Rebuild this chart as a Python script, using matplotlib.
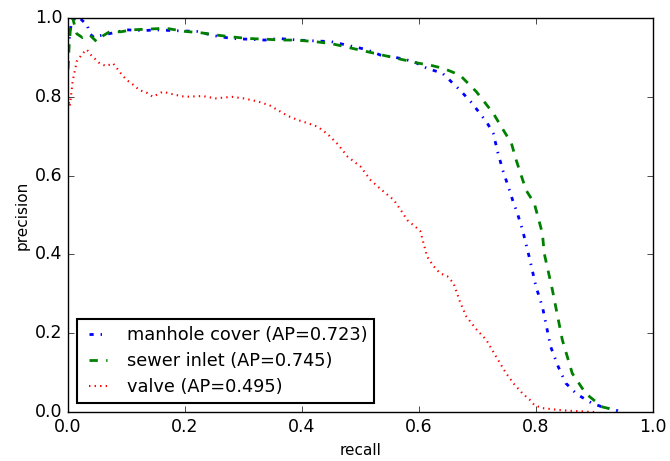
import matplotlib
matplotlib.use("Agg")
import matplotlib.pyplot as plt

plt.style.use("classic")
plt.rcParams["font.family"] = ["DejaVu Sans"]

# manhole cover (AP=0.723)
mc_recall = [0.0, 0.005, 0.012, 0.02, 0.027, 0.032, 0.037, 0.045, 0.054, 0.07, 0.1, 0.13, 0.15,
             0.18, 0.22, 0.25, 0.28, 0.31, 0.336, 0.36, 0.393, 0.42, 0.45, 0.48, 0.51, 0.534,
             0.56, 0.59, 0.614, 0.64, 0.67, 0.69, 0.704, 0.716, 0.727, 0.735, 0.744, 0.752,
             0.760, 0.768, 0.777, 0.789, 0.8, 0.811, 0.825, 0.838, 0.851, 0.87, 0.896, 0.915, 0.936, 0.94]
mc_precision = [0.92, 0.98, 1.0, 1.0, 0.99, 0.987, 0.96, 0.95, 0.955, 0.96, 0.97, 0.968, 0.97,
                0.968, 0.966, 0.955, 0.948, 0.946, 0.944, 0.948, 0.944, 0.942, 0.94, 0.93, 0.92,
                0.906, 0.90, 0.89, 0.872, 0.86, 0.817, 0.785, 0.758, 0.735, 0.707, 0.657, 0.61,
                0.575, 0.538, 0.505, 0.462, 0.39, 0.318, 0.267, 0.166, 0.115, 0.073, 0.045,
                0.022, 0.012, 0.005, 0.003]

# sewer inlet (AP=0.745)
si_recall = [0.0, 0.002, 0.004, 0.008, 0.015, 0.025, 0.037, 0.049, 0.06, 0.071, 0.09, 0.11, 0.14,
             0.167, 0.2, 0.23, 0.252, 0.28, 0.308, 0.34, 0.365, 0.39, 0.422, 0.45, 0.48, 0.51,
             0.54, 0.57, 0.6, 0.62, 0.642, 0.67, 0.698, 0.727, 0.744, 0.758, 0.766, 0.783,
             0.797, 0.811, 0.814, 0.828, 0.845, 0.862, 0.885, 0.913, 0.936, 0.94]
si_precision = [0.87, 0.93, 0.97, 1.0, 0.96, 0.95, 0.957, 0.94, 0.955, 0.965, 0.965, 0.97, 0.972,
                0.974, 0.966, 0.962, 0.957, 0.952, 0.948, 0.946, 0.944, 0.944, 0.94, 0.935, 0.925,
                0.915, 0.905, 0.895, 0.885, 0.88, 0.872, 0.855, 0.813, 0.758, 0.716, 0.682, 0.64,
                0.563, 0.53, 0.453, 0.403, 0.31, 0.183, 0.098, 0.047, 0.013, 0.005, 0.003]

# valve (AP=0.495)
va_recall = [0.0, 0.003, 0.008, 0.015, 0.025, 0.032, 0.04, 0.054, 0.065, 0.077, 0.09, 0.1, 0.112,
             0.122, 0.135, 0.145, 0.162, 0.18, 0.2, 0.23, 0.252, 0.28, 0.3, 0.325, 0.345,
             0.359, 0.375, 0.393, 0.41, 0.427, 0.444, 0.461, 0.478, 0.5, 0.517, 0.535, 0.557,
             0.57, 0.58, 0.602, 0.614, 0.625, 0.636, 0.648, 0.659, 0.67, 0.681, 0.698, 0.715,
             0.732, 0.749, 0.763, 0.777, 0.79, 0.797, 0.81, 0.84, 0.86, 0.885, 0.9]
va_precision = [0.80, 0.775, 0.84, 0.89, 0.91, 0.92, 0.905, 0.885, 0.878, 0.885, 0.86, 0.843, 0.83,
                0.817, 0.81, 0.80, 0.813, 0.806, 0.80, 0.802, 0.796, 0.80, 0.796, 0.788, 0.778,
                0.766, 0.752, 0.741, 0.733, 0.724, 0.705, 0.68, 0.648, 0.623, 0.589, 0.565, 0.538,
                0.51, 0.487, 0.46, 0.394, 0.37, 0.352, 0.345, 0.327, 0.28, 0.242, 0.21, 0.183,
                0.14, 0.098, 0.07, 0.047, 0.03, 0.018, 0.01, 0.005, 0.003, 0.001, 0.0]

series_labels = ["manhole cover (AP=0.723)", "sewer inlet (AP=0.745)", "valve (AP=0.495)"]

fig = plt.figure(figsize=(6.7, 4.61), dpi=100, facecolor="white")
ax = fig.add_axes([68 / 670, 1 - 412 / 461, 585 / 670, 394 / 461])
ax.set_facecolor("white")

ax.plot(mc_recall, mc_precision, "b-.", lw=2, label=series_labels[0])
ax.plot(si_recall, si_precision, "g--", lw=2, label=series_labels[1])
ax.plot(va_recall, va_precision, "r:", lw=1.5, label=series_labels[2])

ax.set_xlim(0, 1)
ax.set_ylim(0, 1)
ax.set_xlabel("recall", fontsize=11)
ax.set_ylabel("precision", fontsize=11, labelpad=4)
ax.tick_params(labelsize=12.5)
ax.set_xticks([0, 0.2, 0.4, 0.6, 0.8, 1.0])
ax.set_yticks([0, 0.2, 0.4, 0.6, 0.8, 1.0])
ax.xaxis.set_major_formatter(matplotlib.ticker.FormatStrFormatter("%.1f"))
ax.yaxis.set_major_formatter(matplotlib.ticker.FormatStrFormatter("%.1f"))
leg = ax.legend(loc="lower left", fontsize=12.8, frameon=True, fancybox=False,
                handlelength=1.6, labelspacing=0.45)
leg.get_frame().set_linewidth(1.5)

fig.savefig("out.png", dpi=100, facecolor="white")
